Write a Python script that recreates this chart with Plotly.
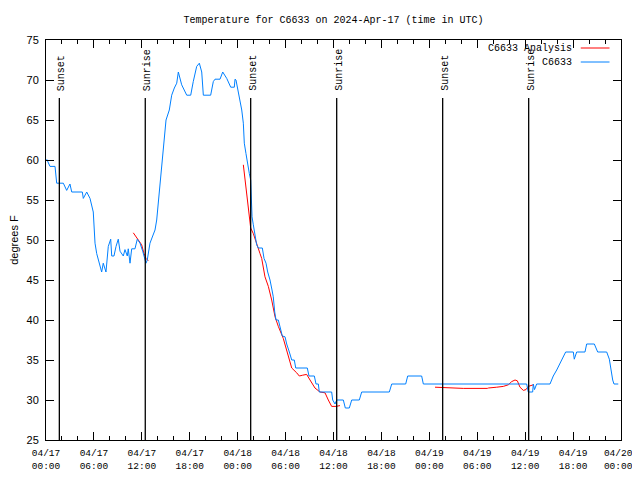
import pandas as pd
import plotly.graph_objects as go

BASE = pd.Timestamp("2024-04-17 00:00")

# Observed temperature (hours since 04/17 00:00 UTC, degrees F)
obs_hours = [0.09, 0.5, 1.13, 1.34, 2.17, 2.59, 3.0, 3.22, 4.55, 4.67, 5.1, 5.51, 5.92, 6.14, 6.35, 6.67,
             6.97, 7.17, 7.51, 7.8, 8.1, 8.23, 8.51, 8.77, 9.05, 9.27, 9.68, 9.89, 10.18, 10.3, 10.52, 10.73,
             11.14, 11.43, 11.77, 12.11, 12.4, 12.52, 12.68, 13.02, 13.36, 13.65, 13.86, 14.06, 14.36, 14.61,
             14.78, 15.03, 15.44, 15.74, 16.07, 16.37, 16.57, 16.99, 17.62, 18.12, 18.44, 18.87, 19.2, 19.5,
             19.7, 20.62, 20.95, 21.16, 21.79, 22.13, 22.63, 23.13, 23.58, 23.67, 23.79, 24.29, 24.51, 24.71,
             24.83, 25.04, 25.21, 25.46, 25.63, 25.7, 25.8, 25.96, 26.17, 26.38, 26.58, 27.09, 27.3, 27.55,
             27.76, 28.05, 28.3, 28.46, 28.64, 28.8, 29.09, 29.3, 29.59, 29.93, 30.14, 30.47, 30.77, 31.09,
             31.27, 32.72, 32.93, 33.6, 33.81, 34.1, 34.22, 35.77, 35.9, 36.19, 36.4, 37.23, 37.48, 37.98,
             38.28, 39.23, 39.53, 42.99, 43.29, 45.04, 45.29, 47.04, 47.25, 60.19, 60.39, 60.94, 61.02, 61.17,
             61.44, 63.11, 63.52, 63.95, 64.36, 64.78, 65.07, 66.03, 66.15, 66.45, 67.49, 67.7, 68.66, 69.08,
             70.21, 70.54, 70.71, 70.96, 71.12, 71.66]
obs_temp = [60.1, 59.2, 59.2, 57.1, 57.1, 56.2, 57.0, 56.0, 56.0, 55.2, 56.0, 55.2, 53.5, 49.6, 48.3, 47.1,
            46.0, 47.1, 46.0, 49.2, 50.1, 48.0, 48.0, 49.2, 50.1, 48.6, 48.0, 48.8, 48.0, 48.9, 47.1, 48.9,
            48.9, 50.1, 49.6, 48.6, 47.5, 47.1, 47.5, 49.6, 50.5, 51.25, 52.5, 54.6, 57.5, 59.6,
            61.7, 65.0, 66.25, 68.1, 69.0, 69.6, 71.0, 69.4, 68.1, 68.1, 69.8, 71.7, 72.1, 71.0,
            68.1, 68.1, 69.8, 70.1, 70.1, 71.0, 70.2, 69.1, 69.1, 70.1, 70.0, 67.7, 66.25, 64.6,
            62.1, 60.8, 59.6, 58.3, 57.5, 53.75, 52.9, 51.9, 50.4, 49.4, 49.0, 49.0, 47.7, 47.1,
            46.0, 45.0, 43.75, 42.9, 41.0, 40.0, 40.0, 39.0, 38.0, 37.9, 37.0, 36.0, 35.0, 35.0,
            34.0, 34.0, 33.0, 33.0, 32.0, 32.0, 31.0, 31.0, 30.0, 29.5, 30.0, 30.0, 29.0, 29.0,
            30.0, 30.0, 31.0, 31.0, 32.0, 32.0, 33.0, 33.0, 32.0, 32.0, 31.0, 31.0, 32.0, 31.3,
            32.0, 32.0, 33.0, 33.75, 34.6, 35.4, 36.0, 36.0, 35.1, 36.0, 36.0, 37.0, 37.0, 36.0,
            36.0, 35.1, 33.75, 32.5, 32.0, 32.0]

# Analysis temperature (three separate segments, None = gap)
ana_hours = [10.93, 11.56, 11.98, 12.27, 12.52, 12.81, None,
             24.71, 24.92, 25.21, 25.42, 25.63, 25.96, 26.38, 26.58, 26.8, 27.01, 27.21, 27.42, 27.84,
             28.26, 28.68, 29.09, 29.71, 30.14, 30.47, 30.77, 31.39, 31.72, 32.14, 32.64, 33.06, 33.68,
             34.31, 34.94, 35.35, 35.77, 36.31, 36.81, None,
             48.71, 50.38, 52.25, 55.26, 55.39, 56.44, 57.26, 57.89, 58.31, 58.73, 59.02, 59.35, 59.77,
             60.1, 60.39, 61.02]
ana_temp = [50.9, 50.0, 49.4, 48.3, 47.7, 47.4, None,
            59.4, 57.5, 55.4, 53.75, 51.5, 50.8, 49.4, 48.75, 48.3, 47.7, 46.7, 45.4, 44.2,
            42.5, 40.4, 39.2, 37.7, 36.25, 35.0, 34.0, 33.4, 33.0, 33.1, 33.2, 32.5, 31.5,
            31.0, 30.9, 30.0, 29.2, 29.2, 29.3, None,
            31.6, 31.5, 31.45, 31.45, 31.5, 31.6, 31.7, 31.9, 32.3, 32.5, 32.4, 31.6, 31.2,
            31.3, 31.7, 31.9]

# Sun events (hours since 04/17 00:00 UTC)
sun_hours = [1.67, 12.43, 25.63, 36.4, 49.67, 60.44]
sun_labels = ["Sunset", "Sunrise", "Sunset", "Sunrise", "Sunset", "Sunrise"]
sun_line_top = 67.75

tick_hours = list(range(0, 73, 6))
tick_text = ["04/17<br>00:00", "04/17<br>06:00", "04/17<br>12:00", "04/17<br>18:00",
             "04/18<br>00:00", "04/18<br>06:00", "04/18<br>12:00", "04/18<br>18:00",
             "04/19<br>00:00", "04/19<br>06:00", "04/19<br>12:00", "04/19<br>18:00",
             "04/20\u00a0<br>00:00\u00a0"]
y_ticks = [25, 30, 35, 40, 45, 50, 55, 60, 65, 70, 75]


def to_time(hours):
    return [None if h is None else BASE + pd.Timedelta(hours=h) for h in hours]


BLUE = "#0080ff"
RED = "#ff0000"
MONO = "Liberation Mono, DejaVu Sans Mono, monospace"
SANS = "Liberation Sans, Arial, sans-serif"

fig = go.Figure()
fig.add_trace(go.Scatter(x=to_time(ana_hours), y=ana_temp, mode="lines", name="C6633 Analysis",
                         line=dict(color=RED, width=1), connectgaps=False, showlegend=False))
fig.add_trace(go.Scatter(x=to_time(obs_hours), y=obs_temp, mode="lines", name="C6633",
                         line=dict(color=BLUE, width=1), showlegend=False))

for h, lab in zip(sun_hours, sun_labels):
    t = BASE + pd.Timedelta(hours=h)
    fig.add_shape(type="line", x0=t, x1=t, y0=25, y1=sun_line_top, xref="x", yref="y",
                  line=dict(color="black", width=1.3))
    fig.add_annotation(x=t, y=sun_line_top, xref="x", yref="y", text=lab, textangle=-90,
                       showarrow=False, yanchor="bottom", xanchor="center", yshift=5, xshift=2,
                       font=dict(family=MONO, size=10, color="black"))

# Legend (gnuplot style: text right-aligned, sample on the right)
legend_items = [("C6633 Analysis", RED, 0.98), ("C6633", BLUE, 0.945)]
for name, col, yp in legend_items:
    fig.add_annotation(x=0.918, y=yp, xref="paper", yref="paper", text=name, showarrow=False,
                       xanchor="right", yanchor="middle", font=dict(family=MONO, size=10, color="black"))
    fig.add_shape(type="line", x0=0.93, x1=0.98, y0=yp, y1=yp, xref="paper", yref="paper",
                  line=dict(color=col, width=1))

fig.update_layout(
    width=632, height=464,
    margin=dict(l=38, r=19, t=32, b=32, autoexpand=False),
    paper_bgcolor="white", plot_bgcolor="white",
    title=dict(text="Temperature for C6633 on 2024-Apr-17 (time in UTC)", x=0.515, xanchor="center",
               y=0.975, yanchor="middle", font=dict(family=MONO, size=10, color="black")),
    showlegend=False,
)
fig.update_xaxes(
    range=[BASE, BASE + pd.Timedelta(hours=72)],
    tickvals=to_time(tick_hours), ticktext=tick_text,
    ticks="inside", ticklen=8, tickcolor="black", tickwidth=1,
    minor=dict(dtick=2 * 3600 * 1000, ticks="inside", ticklen=4, tickcolor="black"),
    showline=True, linecolor="black", linewidth=1, mirror="allticks",
    showgrid=False, zeroline=False, automargin=False,
    ticklabelstandoff=4,
    tickfont=dict(family=MONO, size=9.5, color="black"),
)
fig.update_yaxes(
    range=[25, 75], tickvals=y_ticks,
    ticks="inside", ticklen=8, tickcolor="black", tickwidth=1,
    showline=True, linecolor="black", linewidth=1, mirror="allticks",
    showgrid=False, zeroline=False, automargin=False,
    ticklabelstandoff=4,
    title=dict(text="degrees F", font=dict(family=SANS, size=11, color="black"), standoff=12),
    tickfont=dict(family=SANS, size=11, color="black"),
)

fig.write_html("out.html")
